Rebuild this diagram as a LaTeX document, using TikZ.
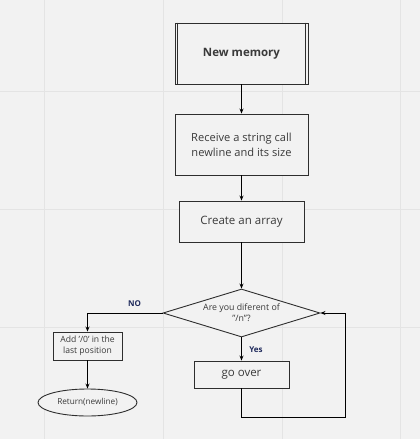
\documentclass[tikz,border=0pt]{standalone}
\usepackage{fontspec}
\setmainfont{Open Sans}
\usetikzlibrary{shapes.geometric,arrows.meta}
\definecolor{bgc}{HTML}{F2F2F2}
\definecolor{gridc}{HTML}{E4E4E4}
\definecolor{linec}{HTML}{2E2E2E}
\definecolor{txtc}{HTML}{3A3A3A}
\definecolor{lblc}{HTML}{1F2A5C}
\tikzset{
  box/.style={draw=linec, line width=0.9pt, fill=bgc, text=txtc, inner sep=0pt, align=center},
  conn/.style={draw=black, line width=0.9pt, -{Stealth[length=5pt,width=4pt]}},
  lbl/.style={text=lblc, font=\bfseries\fontsize{8}{9}\selectfont}
}
\begin{document}
\begin{tikzpicture}[x=1pt,y=-1pt]
\useasboundingbox (0,0) rectangle (420,439);
\fill[bgc] (0,0) rectangle (420,439);
\foreach \gx in {44,163,282,400} \draw[gridc, line width=0.8pt] (\gx,0) -- (\gx,439);
\foreach \gy in {91,209,327} \draw[gridc, line width=0.8pt] (0,\gy) -- (420,\gy);

\node[box, minimum width=133pt, minimum height=61pt, font=\bfseries\fontsize{11.5}{13}\selectfont] (newmem) at (241.5,53.5) {New memory};
\draw[linec, line width=0.8pt] ([xshift=3pt]newmem.north west) -- ([xshift=3pt]newmem.south west);
\draw[linec, line width=0.8pt] ([xshift=-3pt]newmem.north east) -- ([xshift=-3pt]newmem.south east);

\node[box, minimum width=133pt, minimum height=61pt, font=\fontsize{11.1}{15}\selectfont] (recv) at (241.5,144.5) {Receive a string call\\newline and its size};

\node[box, minimum width=125pt, minimum height=41pt, font=\fontsize{11.5}{13}\selectfont] (arr) at (241.5,221.5) {Create an array};

\node[box, shape=diamond, aspect=3.27, minimum width=157pt, minimum height=48pt, font=\fontsize{8.8}{11}\selectfont] (dec) at (241.5,313) {Are you diferent of\\"/n"?};

\node[box, minimum width=69pt, minimum height=28pt, font=\fontsize{8.6}{11}\selectfont] (add) at (87.5,346) {Add '/0' in the\\last position};

\node[box, shape=ellipse, minimum width=99pt, minimum height=27pt, font=\fontsize{8.2}{10}\selectfont] (ret) at (87.5,402.5) {Return(newline)};

\node[box, minimum width=95pt, minimum height=27pt, font=\fontsize{11.5}{13}\selectfont] (go) at (241.5,374.5) {go over};

\coordinate (loopbl) at (241.5,417);
\coordinate (loopbr) at (345,417);

\draw[conn] (newmem) -- (recv);
\draw[conn] (recv) -- (arr);
\draw[conn] (arr) -- (dec);
\draw[conn] (dec.west) -| (add.north);
\draw[conn] (add) -- (ret);
\draw[conn] (dec.south) -- (go.north);
\draw[conn] (go.south) -- (loopbl) -- (loopbr) |- (dec.east);

\node[lbl] (no) at (134.5,304) {NO};
\node[lbl] (yes) at (256,350) {Yes};
\end{tikzpicture}
\end{document}
